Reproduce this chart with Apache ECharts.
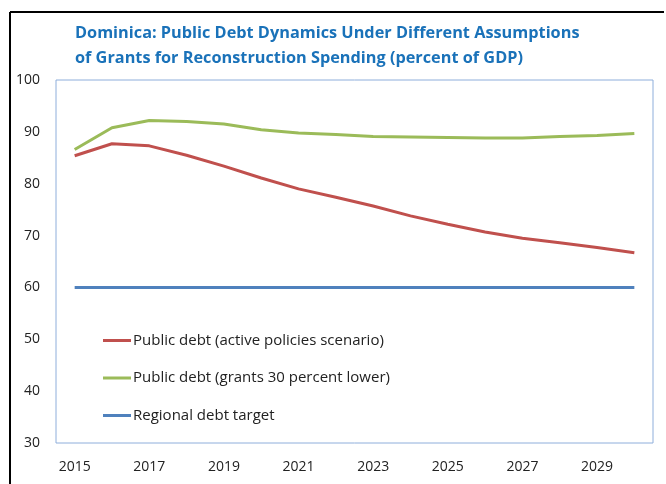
<!DOCTYPE html>
<html>
<head>
<meta charset="utf-8">
<script src="https://cdn.jsdelivr.net/npm/echarts@6/dist/echarts.min.js"></script>
<style>
  html, body { margin: 0; padding: 0; background: #fff; }
  #chart { width: 666px; height: 484px; }
</style>
</head>
<body>
<div id="chart"></div>
<script>
// Years on the horizontal axis
const years = ['2015','2016','2017','2018','2019','2020','2021','2022','2023','2024','2025','2026','2027','2028','2029','2030'];

// Debt paths, percent of GDP
const activePolicies = [85.4, 87.7, 87.3, 85.5, 83.4, 81.1, 79.0, 77.4, 75.7, 73.8, 72.2, 70.7, 69.5, 68.6, 67.7, 66.7];
const grantsLower   = [86.6, 90.8, 92.2, 92.0, 91.5, 90.4, 89.8, 89.5, 89.1, 89.0, 88.9, 88.8, 88.8, 89.1, 89.3, 89.7];
const debtTarget    = [60, 60, 60, 60, 60, 60, 60, 60, 60, 60, 60, 60, 60, 60, 60, 60];

const seriesNames = [
  'Public debt (active policies scenario)',
  'Public debt (grants 30 percent lower)',
  'Regional debt target'
];

const titleLines = [
  'Dominica: Public Debt Dynamics Under Different Assumptions',
  'of Grants for Reconstruction Spending (percent of GDP)'
];

const FONT = '"Open Sans", "Noto Sans", sans-serif';
const chart = echarts.init(document.getElementById('chart'), null, { renderer: 'canvas' });

function line(name, data, color) {
  return {
    name: name,
    type: 'line',
    data: data,
    symbol: 'none',
    smooth: false,
    lineStyle: { color: color, width: 3 },
    itemStyle: { color: color },
    emphasis: { disabled: true }
  };
}

chart.setOption({
  animation: false,
  textStyle: { fontFamily: FONT },
  title: {
    text: titleLines.join('\n'),
    left: 75,
    top: 21,
    padding: 0,
    textStyle: {
      fontFamily: FONT,
      fontSize: 16.3,
      fontWeight: 'bold',
      color: '#1a72b9',
      lineHeight: 25
    }
  },
  legend: {
    orient: 'vertical',
    left: 103,
    top: 333,
    padding: 0,
    itemWidth: 28,
    itemHeight: 3,
    itemGap: 22.5,
    icon: 'rect',
    textStyle: { fontSize: 15, color: '#222', padding: [0, 0, 0, -3] },
    data: seriesNames
  },
  grid: {
    left: 56,
    right: 13,
    top: 80,
    bottom: 41,
    show: true,
    borderColor: '#8eaedb',
    borderWidth: 1
  },
  xAxis: {
    type: 'category',
    data: years,
    boundaryGap: true,
    axisLine: { show: false },
    axisTick: { show: false },
    axisLabel: { interval: 1, fontSize: 14, color: '#222', margin: 17 }
  },
  yAxis: {
    type: 'value',
    min: 30,
    max: 100,
    interval: 10,
    splitLine: { show: false },
    axisLine: { show: false },
    axisTick: { show: false },
    axisLabel: { fontSize: 14, color: '#222', margin: 16 }
  },
  series: [
    line(seriesNames[0], activePolicies, '#c0504d'),
    line(seriesNames[1], grantsLower, '#9bbb59'),
    line(seriesNames[2], debtTarget, '#4f81bd')
  ],
  graphic: [
    { type: 'line', shape: { x1: 10, y1: 12, x2: 664, y2: 12 }, style: { stroke: '#000', lineWidth: 2 } },
    { type: 'line', shape: { x1: 10, y1: 12, x2: 10, y2: 484 }, style: { stroke: '#000', lineWidth: 2 } }
  ]
});
</script>
</body>
</html>
